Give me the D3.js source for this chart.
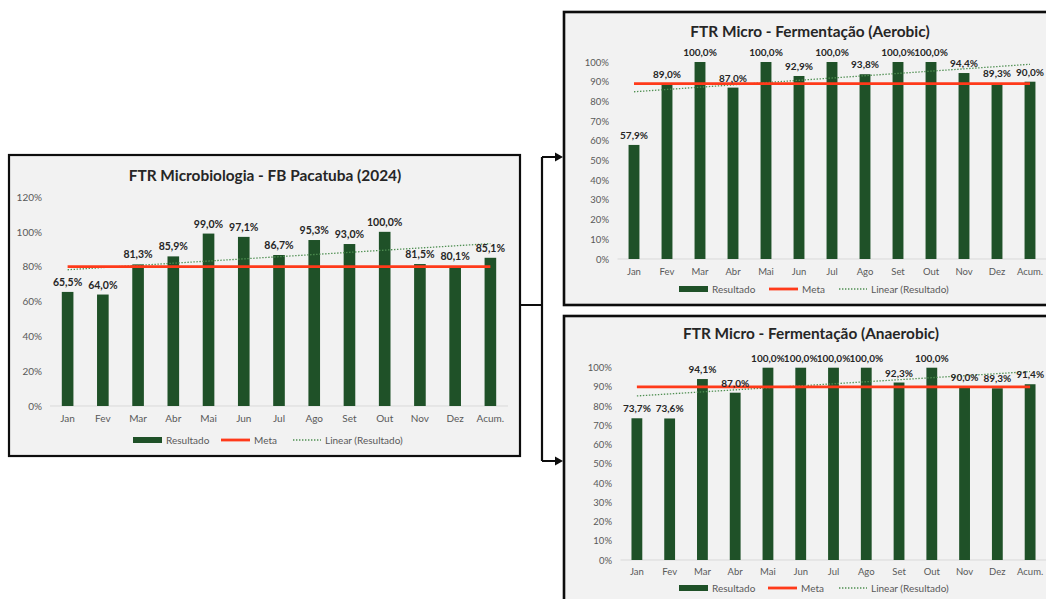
<!DOCTYPE html>
<html>
<head>
<meta charset="utf-8">
<script src="https://cdn.jsdelivr.net/npm/d3@7"></script>
<style>
  html, body { margin: 0; padding: 0; background: #ffffff; }
  svg { display: block; font-family: Lato, "Open Sans", sans-serif; }
</style>
</head>
<body>
<svg id="board" width="1046" height="599"></svg>
<script>
// Month categories shared by all three panels
const categories = ["Jan", "Fev", "Mar", "Abr", "Mai", "Jun", "Jul", "Ago", "Set", "Out", "Nov", "Dez", "Acum."];

// FTR results (%) per panel
const microValues     = [65.5, 64.0, 81.3, 85.9, 99.0, 97.1, 86.7, 95.3, 93.0, 100.0, 81.5, 80.1, 85.1];
const aerobicValues   = [57.9, 89.0, 100.0, 87.0, 100.0, 92.9, 100.0, 93.8, 100.0, 100.0, 94.4, 89.3, 90.0];
const anaerobicValues = [73.7, 73.6, 94.1, 87.0, 100.0, 100.0, 100.0, 100.0, 92.3, 100.0, 90.0, 89.3, 91.4];

// Targets (Meta)
const microMeta = 80;
const aerobicMeta = 89;
const anaerobicMeta = 90;

// Y-axis ticks
const microTicks = [0, 20, 40, 60, 80, 100, 120];
const fermTicks  = [0, 10, 20, 30, 40, 50, 60, 70, 80, 90, 100];

// Legend entries
const legendLabels = ["Resultado", "Meta", "Linear (Resultado)"];

const svg = d3.select("#board");
const BAR = "#1f5128";
const META = "#ff3a1a";
const TREND = "#4f8f52";
const fmt = v => v.toFixed(1).replace(".", ",") + "%";

// Least-squares trendline over the series (Excel "Linear" trendline)
function linearFit(vals) {
  const n = vals.length;
  const mx = (n - 1) / 2;
  const my = d3.mean(vals);
  let sxy = 0, sxx = 0;
  vals.forEach((v, i) => { sxy += (i - mx) * (v - my); sxx += (i - mx) * (i - mx); });
  const b = sxy / sxx;
  return vals.map((_, i) => my + b * (i - mx));
}

function drawPanel(o) {
  const g = svg.append("g");

  // frame
  g.append("rect")
    .attr("x", o.box[0]).attr("y", o.box[1])
    .attr("width", o.box[2]).attr("height", o.box[3])
    .attr("fill", "#f2f2f2").attr("stroke", "#0d0d0d").attr("stroke-width", o.border);

  // title
  g.append("text")
    .attr("x", o.titleX).attr("y", o.titleY)
    .attr("text-anchor", "middle").attr("dominant-baseline", "central")
    .attr("font-size", 15.4).attr("font-weight", 700).attr("fill", "#262626")
    .text(o.title);

  const x = d3.scaleBand().domain(categories).range(o.xRange).paddingInner(0.67).paddingOuter(0.335);
  const y = d3.scaleLinear().domain([0, o.yMax]).range(o.yRange);

  // y axis labels
  const yAxis = d3.axisLeft(y).tickValues(o.ticks).tickFormat(d => d + "%").tickSize(0).tickPadding(0);
  const ya = g.append("g").attr("transform", `translate(${o.yLabelX},0)`).call(yAxis);
  ya.select(".domain").remove();
  ya.selectAll("text").attr("font-size", o.tickFont).attr("fill", "#595959").attr("font-family", "Lato, 'Open Sans', sans-serif");

  // baseline
  g.append("line")
    .attr("x1", o.xRange[0]).attr("x2", o.xRange[1])
    .attr("y1", y(0)).attr("y2", y(0))
    .attr("stroke", "#d9d9d9").attr("stroke-width", 1);

  // x axis labels
  const xAxis = d3.axisBottom(x).tickSize(0).tickPadding(0);
  const xa = g.append("g").attr("transform", `translate(0,${o.xLabelY})`).call(xAxis);
  xa.select(".domain").remove();
  xa.selectAll("text").attr("font-size", o.tickFont).attr("fill", "#595959")
    .attr("dy", "0.32em").attr("font-family", "Lato, 'Open Sans', sans-serif");

  // bars
  g.append("g").selectAll("rect").data(o.values).join("rect")
    .attr("x", (d, i) => x(categories[i]))
    .attr("y", d => y(d))
    .attr("width", x.bandwidth())
    .attr("height", d => y(0) - y(d))
    .attr("fill", BAR);

  const cx = i => x(categories[i]) + x.bandwidth() / 2;

  // trendline
  const fit = linearFit(o.values);
  g.append("path")
    .attr("d", d3.line().x((d, i) => cx(i)).y(d => y(d))(fit))
    .attr("fill", "none").attr("stroke", TREND).attr("stroke-width", 1.3)
    .attr("stroke-dasharray", "1.4,1.6");

  // target line
  g.append("line")
    .attr("x1", cx(0)).attr("x2", cx(categories.length - 1))
    .attr("y1", y(o.meta)).attr("y2", y(o.meta))
    .attr("stroke", META).attr("stroke-width", 2.8);

  // data labels
  g.append("g").selectAll("text").data(o.values).join("text")
    .attr("x", (d, i) => cx(i))
    .attr("y", d => y(d) - 6)
    .attr("text-anchor", "middle")
    .attr("font-size", o.labelFont).attr("font-weight", 700).attr("fill", "#262626")
    .text(d => fmt(d));

  // legend
  const lg = g.append("g").attr("transform", `translate(0,${o.legendY})`);
  const L = o.legendX;
  lg.append("rect").attr("x", L[0]).attr("y", -3).attr("width", 29).attr("height", 6).attr("fill", BAR);
  lg.append("line").attr("x1", L[1]).attr("x2", L[1] + 29).attr("y1", 0).attr("y2", 0)
    .attr("stroke", META).attr("stroke-width", 2.8);
  lg.append("line").attr("x1", L[2]).attr("x2", L[2] + 28).attr("y1", 0).attr("y2", 0)
    .attr("stroke", TREND).attr("stroke-width", 1.3).attr("stroke-dasharray", "1.4,1.6");
  legendLabels.forEach((t, i) => {
    lg.append("text").attr("x", L[i] + (i === 2 ? 32 : 33)).attr("y", 0)
      .attr("dominant-baseline", "central")
      .attr("font-size", o.legendFont).attr("fill", "#595959").text(t);
  });
}

// Main panel
drawPanel({
  title: "FTR Microbiologia - FB Pacatuba (2024)",
  values: microValues, meta: microMeta, ticks: microTicks, yMax: 120,
  box: [9, 155, 511, 301], border: 2.2,
  titleX: 265, titleY: 175,
  xRange: [50, 508], yRange: [406, 197],
  yLabelX: 42, xLabelY: 419, legendY: 440,
  legendX: [133, 221, 293],
  tickFont: 10, labelFont: 10.5, legendFont: 10
});

// Aerobic panel
drawPanel({
  title: "FTR Micro - Fermentação (Aerobic)",
  values: aerobicValues, meta: aerobicMeta, ticks: fermTicks, yMax: 100,
  box: [564, 12, 520, 293], border: 2.6,
  titleX: 810, titleY: 31,
  xRange: [617.5, 1046.5], yRange: [259, 62],
  yLabelX: 609, xLabelY: 272, legendY: 289,
  legendX: [679, 769, 839],
  tickFont: 9.5, labelFont: 10, legendFont: 10
});

// Anaerobic panel
drawPanel({
  title: "FTR Micro - Fermentação (Anaerobic)",
  values: anaerobicValues, meta: anaerobicMeta, ticks: fermTicks, yMax: 100,
  box: [564, 316, 520, 300], border: 2.6,
  titleX: 811, titleY: 333,
  xRange: [620.5, 1046.5], yRange: [560, 367.7],
  yLabelX: 612, xLabelY: 572, legendY: 588,
  legendX: [679, 768, 839],
  tickFont: 9.5, labelFont: 10, legendFont: 10
});

// Connector from the main panel to the two detail panels
const conn = svg.append("g").attr("stroke", "#0d0d0d").attr("stroke-width", 2.2).attr("fill", "none");
conn.append("path").attr("d", "M520,305 H542 M542,157 V461 M542,157 H556 M542,461 H556");
svg.append("path").attr("d", "M563,157 L555,152.5 L555,161.5 Z").attr("fill", "#0d0d0d");
svg.append("path").attr("d", "M563,461 L555,456.5 L555,465.5 Z").attr("fill", "#0d0d0d");
</script>
</body>
</html>
